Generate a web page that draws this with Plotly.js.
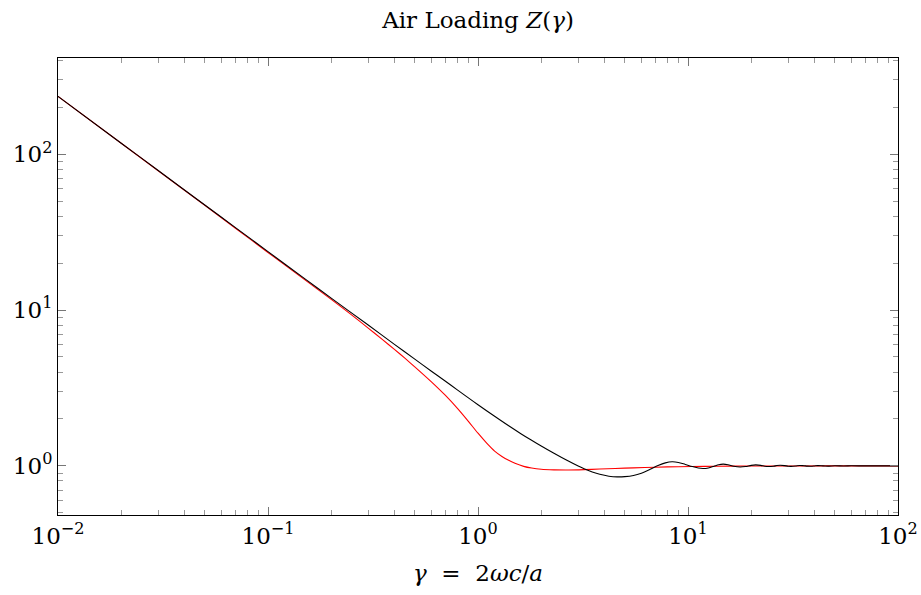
<!DOCTYPE html>
<html>
<head>
<meta charset="utf-8">
<script src="https://cdn.plot.ly/plotly-3.0.1.min.js"></script>
<style>html,body{margin:0;padding:0;background:#fff;}#plot{width:921px;height:595px;}</style>
</head>
<body>
<div id="plot"></div>
<script>
// gamma values and Z(gamma) (black curve)
const gammaBlack = [0.01,0.02,0.03,0.05,0.07,0.1,0.15,0.2,0.3,0.4,0.5,0.6,0.7,0.8,0.9,1.0,1.2,1.4,1.6,1.8,2.0,2.3,2.65,3.0,3.2,3.5,3.8,4.2,4.6,5.0,5.5,6.0,6.6,7.2,7.8,8.4,9.0,9.7,10.5,11.2,11.8,12.5,13.3,14.0,14.7,15.5,16.5,17.7,18.8,20.0,21.0,22.2,23.2,24.2,25.5,26.5,27.5,28.8,30,31,32.5,34,35.5,37,38.5,40,41.5,43,45,47,50,55,60,70,80,100];
const zBlack = [235,117.6,78.5,47.2,33.8,23.7,15.85,11.92,8.01,6.02,4.84,4.05,3.49,3.06,2.73,2.47,2.08,1.807,1.609,1.459,1.341,1.204,1.085,0.997,0.958,0.914,0.883,0.859,0.850,0.853,0.868,0.898,0.950,1.005,1.045,1.062,1.052,1.022,0.99,0.968,0.962,0.97,0.995,1.018,1.026,1.018,0.995,0.983,0.99,1.008,1.015,1.008,0.995,0.99,0.995,1.005,1.01,1.004,0.995,0.993,0.998,1.006,1.003,0.997,0.995,0.999,1.004,1.003,0.998,0.997,1.002,0.999,1.001,1.0,1.0,1.0];
// red curve
const gammaRed = [0.01,0.02,0.03,0.05,0.07,0.1,0.15,0.2,0.25,0.3,0.35,0.4,0.45,0.5,0.6,0.7,0.8,0.9,1.0,1.1,1.2,1.3,1.4,1.5,1.65,1.8,2.0,2.3,2.7,3.2,3.8,4.5,5.5,7,9,12,16,22,35,60,100];
const zRed = [235,117.5,78.3,47.0,33.5,23.4,15.6,11.7,9.30,7.66,6.48,5.59,4.89,4.32,3.46,2.83,2.33,1.93,1.62,1.40,1.245,1.15,1.085,1.04,0.993,0.968,0.951,0.943,0.941,0.946,0.954,0.962,0.971,0.981,0.988,0.993,0.996,0.998,0.999,1.0,1.0];
// tick labels
const majorTickVals = [0.01, 0.1, 1, 10, 100];
const xTickText = ['10<sup>−2</sup>', '10<sup>−1</sup>', '10<sup>0</sup>', '10<sup>1</sup>', '10<sup>2</sup>'];
const yTickVals = [1, 10, 100];
const yTickText = ['10<sup>0</sup>', '10<sup>1</sup>', '10<sup>2</sup>'];

const serif = 'DejaVu Serif, Liberation Serif, serif';
const tickFont = {family: serif, size: 23, color: '#000'};

// minor tick positions 2..9 per decade
const minorVals = [];
for (let e = -3; e <= 2; e++) for (let m = 2; m <= 9; m++) minorVals.push(m * Math.pow(10, e));

const traces = [
  {x: gammaRed, y: zRed, mode: 'lines', line: {color: '#ff0000', width: 1.1, shape: 'spline', smoothing: 0.8}, hoverinfo: 'skip'},
  {x: gammaBlack, y: zBlack, mode: 'lines', line: {color: '#000000', width: 1.1, shape: 'spline', smoothing: 0.8}, hoverinfo: 'skip'}
];

const axisCommon = {
  type: 'log',
  showline: true, linecolor: '#000', linewidth: 1, mirror: 'ticks',
  ticks: 'inside', ticklen: 8, tickcolor: '#777', tickwidth: 1,
  showgrid: false, zeroline: false,
  tickmode: 'array',
  minor: {tickmode: 'array', tickvals: minorVals, ticks: 'inside', ticklen: 5, tickcolor: '#999', tickwidth: 1, showgrid: false},
  tickfont: tickFont
};

const layout = {
  width: 921, height: 595,
  margin: {l: 58, r: 23, t: 58, b: 80},
  paper_bgcolor: '#fff', plot_bgcolor: '#fff',
  showlegend: false,
  font: tickFont,
  title: {text: 'Air Loading <i>Z</i>(<i>γ</i>)', font: {family: serif, size: 23, color: '#000'}, x: 0.5, xref: 'paper', xanchor: 'center', y: 0.966, yref: 'container', yanchor: 'middle'},
  xaxis: Object.assign({}, axisCommon, {range: [-2, 2], tickvals: majorTickVals, ticktext: xTickText,
    title: {text: '<i>γ</i>&nbsp;&nbsp;=&nbsp;&nbsp;2<i>ωc</i>/<i>a</i>', font: {family: serif, size: 23, color: '#000'}, standoff: 17}}),
  yaxis: Object.assign({}, axisCommon, {range: [Math.log10(0.484), Math.log10(414)], tickvals: yTickVals, ticktext: yTickText})
};

Plotly.newPlot('plot', traces, layout, {staticPlot: true, displayModeBar: false});
</script>
</body>
</html>
